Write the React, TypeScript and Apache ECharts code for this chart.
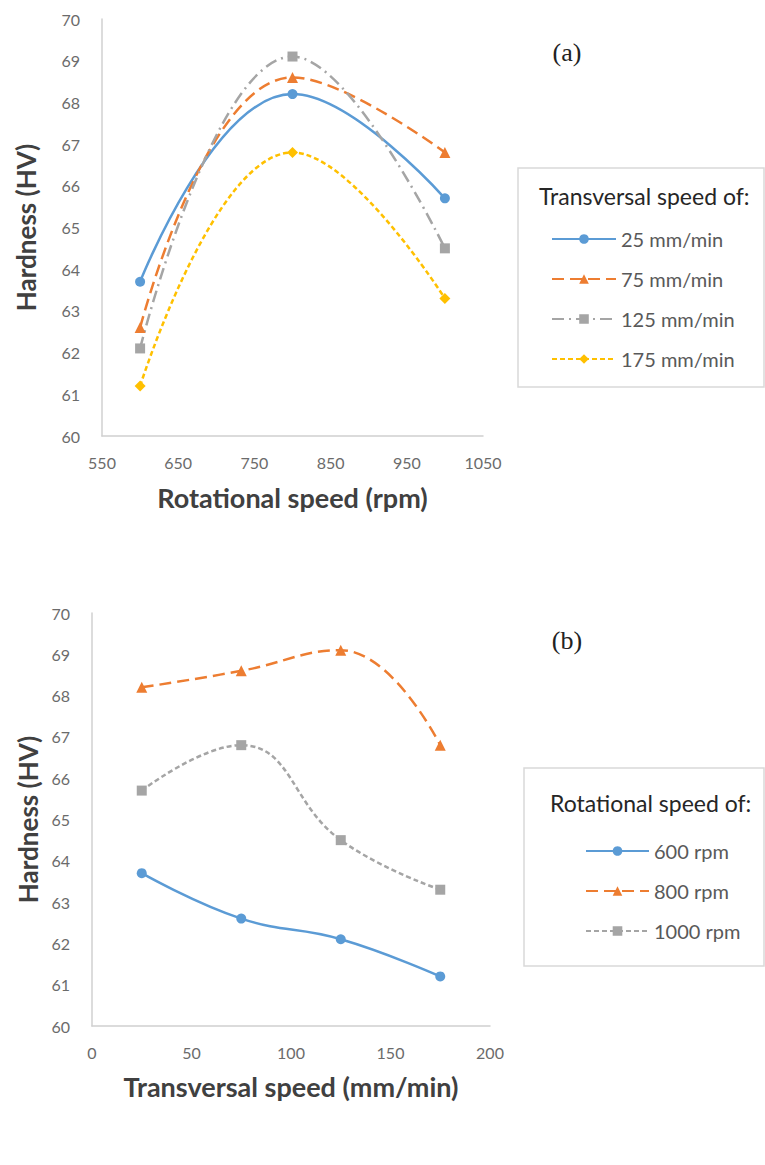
import React, { useEffect, useRef } from "react";
import * as echarts from "echarts";

const rotSpeeds = [600, 800, 1000];
const travSpeeds = [25, 75, 125, 175];

// Chart (a): hardness vs rotational speed, per transversal speed
const hv25 = [63.7, 68.2, 65.7];
const hv75 = [62.6, 68.6, 66.8];
const hv125 = [62.1, 69.1, 64.5];
const hv175 = [61.2, 66.8, 63.3];

// Chart (b): hardness vs transversal speed, per rotational speed
const hv600 = [63.7, 62.6, 62.1, 61.2];
const hv800 = [68.2, 68.6, 69.1, 66.8];
const hv1000 = [65.7, 66.8, 64.5, 63.3];

const namesA = ["25 mm/min", "75 mm/min", "125 mm/min", "175 mm/min"];
const namesB = ["600 rpm", "800 rpm", "1000 rpm"];

const BLUE = "#5B9BD5";
const ORANGE = "#ED7D31";
const GRAY = "#A5A5A5";
const YELLOW = "#FFC000";
const FONT = "Lato, 'Open Sans', sans-serif";

function pairs(xs: number[], ys: number[]) {
  return xs.map((x, i) => [x, ys[i]]);
}

export default function App() {
  const ref = useRef<HTMLDivElement>(null);
  useEffect(() => {
    if (!ref.current) return;
    const chart = echarts.init(ref.current, undefined, { renderer: "svg" });
    const axisLabel = {
      color: "#6b6b6b",
      fontSize: 16,
      fontFamily: FONT,
      formatter: (v: number) => String(v),
    };
    const axisLine = { show: true, lineStyle: { color: "#D0D0D0", width: 1.5 } };
    const nameStyleX = { color: "#404040", fontSize: 27, fontWeight: "bold" as const, fontFamily: FONT };
    const nameStyleY = { color: "#404040", fontSize: 26, fontWeight: "bold" as const, fontFamily: FONT };
    const legendText = { color: "#595959", fontSize: 20, fontFamily: FONT };
    const mk = (
      name: string,
      data: number[][],
      color: string,
      symbol: string,
      size: number,
      dash: any,
      idx: number
    ) => ({
      type: "line",
      name,
      data,
      xAxisIndex: idx,
      yAxisIndex: idx,
      smooth: 0.45,
      symbol,
      symbolSize: size,
      itemStyle: { color },
      lineStyle: { color, width: 2.5, type: dash },
    });
    chart.setOption({
      animation: false,
      backgroundColor: "#fff",
      grid: [
        { left: 102, right: 282, top: 19, bottom: 729 },
        { left: 92, right: 275, top: 613, bottom: 139 },
      ],
      xAxis: [
        {
          gridIndex: 0,
          type: "value",
          min: 550,
          max: 1050,
          interval: 100,
          axisLine,
          axisTick: { show: false },
          splitLine: { show: false },
          axisLabel: { ...axisLabel, margin: 18 },
          name: "Rotational speed (rpm)",
          nameLocation: "middle",
          nameGap: 48,
          nameTextStyle: nameStyleX,
        },
        {
          gridIndex: 1,
          type: "value",
          min: 0,
          max: 200,
          interval: 50,
          axisLine,
          axisTick: { show: false },
          splitLine: { show: false },
          axisLabel: { ...axisLabel, margin: 18 },
          name: "Transversal speed (mm/min)",
          nameLocation: "middle",
          nameGap: 47,
          nameTextStyle: nameStyleX,
        },
      ],
      yAxis: [
        {
          gridIndex: 0,
          type: "value",
          min: 60,
          max: 70,
          interval: 1,
          axisLine,
          axisTick: { show: false },
          splitLine: { show: false },
          axisLabel: { ...axisLabel, margin: 22 },
          name: "Hardness (HV)",
          nameLocation: "middle",
          nameGap: 63,
          nameTextStyle: nameStyleY,
        },
        {
          gridIndex: 1,
          type: "value",
          min: 60,
          max: 70,
          interval: 1,
          axisLine,
          axisTick: { show: false },
          splitLine: { show: false },
          axisLabel: { ...axisLabel, margin: 22 },
          name: "Hardness (HV)",
          nameLocation: "middle",
          nameGap: 49,
          nameTextStyle: nameStyleY,
        },
      ],
      legend: [
        {
          data: namesA,
          orient: "vertical",
          left: 546,
          top: 224,
          itemWidth: 64,
          itemHeight: 12,
          itemGap: 20,
          textStyle: legendText,
        },
        {
          data: namesB,
          orient: "vertical",
          left: 580,
          top: 836,
          itemWidth: 63,
          itemHeight: 12,
          itemGap: 20,
          textStyle: legendText,
        },
      ],
      graphic: [
        {
          type: "rect",
          shape: { x: 518, y: 168, width: 246, height: 219 },
          style: { fill: "none", stroke: "#D9D9D9", lineWidth: 1.5 },
        },
        {
          type: "text",
          x: 539,
          y: 196,
          style: {
            text: "Transversal speed of:",
            fill: "#262626",
            font: `23px ${FONT}`,
            verticalAlign: "middle",
          },
        },
        {
          type: "rect",
          shape: { x: 524, y: 768, width: 240, height: 198 },
          style: { fill: "none", stroke: "#D9D9D9", lineWidth: 1.5 },
        },
        {
          type: "text",
          x: 550,
          y: 803,
          style: {
            text: "Rotational speed of:",
            fill: "#262626",
            font: `23px ${FONT}`,
            verticalAlign: "middle",
          },
        },
        {
          type: "text",
          x: 567,
          y: 52,
          style: {
            text: "(a)",
            fill: "#222",
            font: `26px 'Liberation Serif', 'DejaVu Serif', serif`,
            align: "center",
            verticalAlign: "middle",
          },
        },
        {
          type: "text",
          x: 567,
          y: 640,
          style: {
            text: "(b)",
            fill: "#222",
            font: `26px 'Liberation Serif', 'DejaVu Serif', serif`,
            align: "center",
            verticalAlign: "middle",
          },
        },
      ],
      series: [
        mk(namesA[0], pairs(rotSpeeds, hv25), BLUE, "circle", 10, "solid", 0),
        mk(namesA[1], pairs(rotSpeeds, hv75), ORANGE, "triangle", 11, [12, 6], 0),
        mk(namesA[2], pairs(rotSpeeds, hv125), GRAY, "rect", 10, [12, 5, 2, 5], 0),
        mk(namesA[3], pairs(rotSpeeds, hv175), YELLOW, "diamond", 11, [5, 3], 0),
        mk(namesB[0], pairs(travSpeeds, hv600), BLUE, "circle", 10, "solid", 1),
        mk(namesB[1], pairs(travSpeeds, hv800), ORANGE, "triangle", 11, [12, 6], 1),
        mk(namesB[2], pairs(travSpeeds, hv1000), GRAY, "rect", 10, [5, 3], 1),
      ],
    });
    return () => chart.dispose();
  }, []);
  return (
    <div
      ref={ref}
      style={{ position: "absolute", left: 0, top: 0, width: 765, height: 1165 }}
    />
  );
}
